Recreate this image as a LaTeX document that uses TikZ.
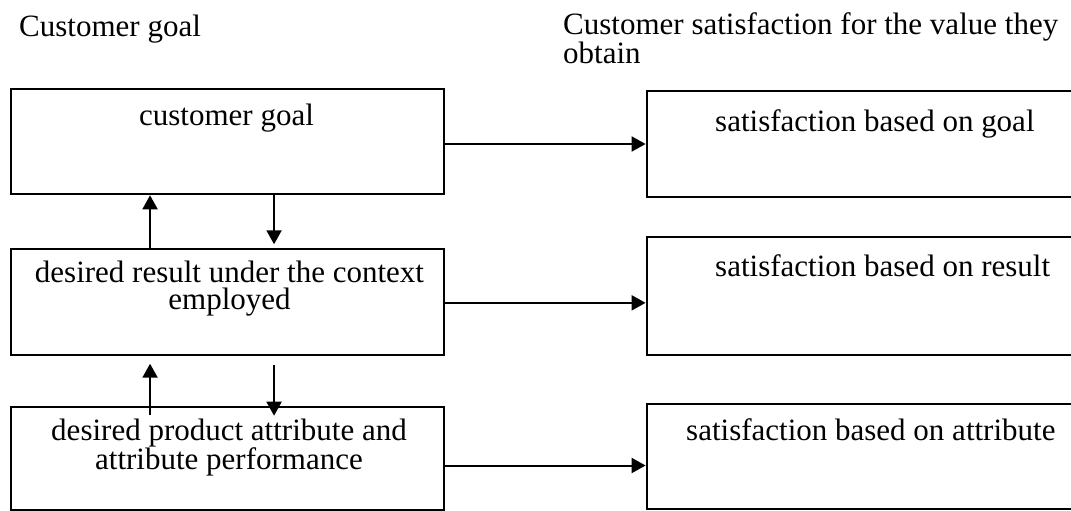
\documentclass[tikz,border=0pt]{standalone}
\usepackage{fontspec}
\setmainfont{Liberation Serif}
\usetikzlibrary{arrows.meta}
\begin{document}
\begin{tikzpicture}[x=1pt,y=-1pt,
  box/.style={draw=black, line width=2pt, rectangle, inner sep=0pt, anchor=north west},
  lbl/.style={inner sep=0pt, font=\fontsize{31}{26.5}\selectfont},
  arr/.style={line width=2pt, -{Triangle[length=14pt,width=15pt]}}]
\useasboundingbox (0,0) rectangle (1071,511);
% left column boxes
\node[box, minimum width=432.7pt, minimum height=105.6pt] (l1) at (10.3,87.7) {};
\node[box, minimum width=432.7pt, minimum height=106.3pt] (l2) at (10.3,247.7) {};
\node[box, minimum width=432.7pt, minimum height=103pt] (l3) at (10.3,406) {};
% right column boxes
\node[box, minimum width=460pt, minimum height=106pt] (r1) at (645.6,90) {};
\node[box, minimum width=460pt, minimum height=118.8pt] (r2) at (645.6,235.5) {};
\node[box, minimum width=460pt, minimum height=105.8pt] (r3) at (645.6,402.5) {};
% headings
\node[lbl, anchor=base west] (h1) at (19,36.7) {Customer goal};
\node[lbl, anchor=base west, align=left] (h2) at (563,63.5) {Customer satisfaction for the value they\\obtain};
% box texts
\node[lbl, anchor=base] (tl1) at (226.5,125) {customer goal};
\node[lbl, anchor=base, align=center] (tl2) at (229.5,309) {desired result under the context\\employed};
\node[lbl, anchor=base, align=center] (tl3) at (229,469.5) {desired product attribute and\\attribute performance};
\node[lbl, anchor=base west] (tr1) at (715,131.7) {satisfaction based on goal};
\node[lbl, anchor=base west] (tr2) at (715,276) {satisfaction based on result};
\node[lbl, anchor=base west] (tr3) at (686,440) {satisfaction based on attribute};
% horizontal arrows
\draw[arr] (l1.east |- r1.west) -- (r1.west);
\draw[arr] ([yshift=-1pt]l2.east) -- ([yshift=-1pt]l2.east -| r2.west);
\draw[arr] ([yshift=-7pt]l3.east) -- ([yshift=-7pt]l3.east -| r3.west);
% vertical arrows between left boxes
\draw[arr] ([xshift=-77.6pt]l2.north) -- ([xshift=-77.6pt]l1.south);
\draw[arr] ([xshift=46.4pt,yshift=1.5pt]l1.south) -- ([xshift=46.4pt,yshift=3.4pt]l2.north);
\draw[arr] ([xshift=-77.6pt,yshift=-9pt]l3.north) -- ([xshift=-77.6pt,yshift=-7.7pt]l2.south);
\draw[arr] ([xshift=46.4pt,yshift=-9.3pt]l2.south) -- ([xshift=46.4pt,yshift=-9.7pt]l3.north);
\end{tikzpicture}
\end{document}
